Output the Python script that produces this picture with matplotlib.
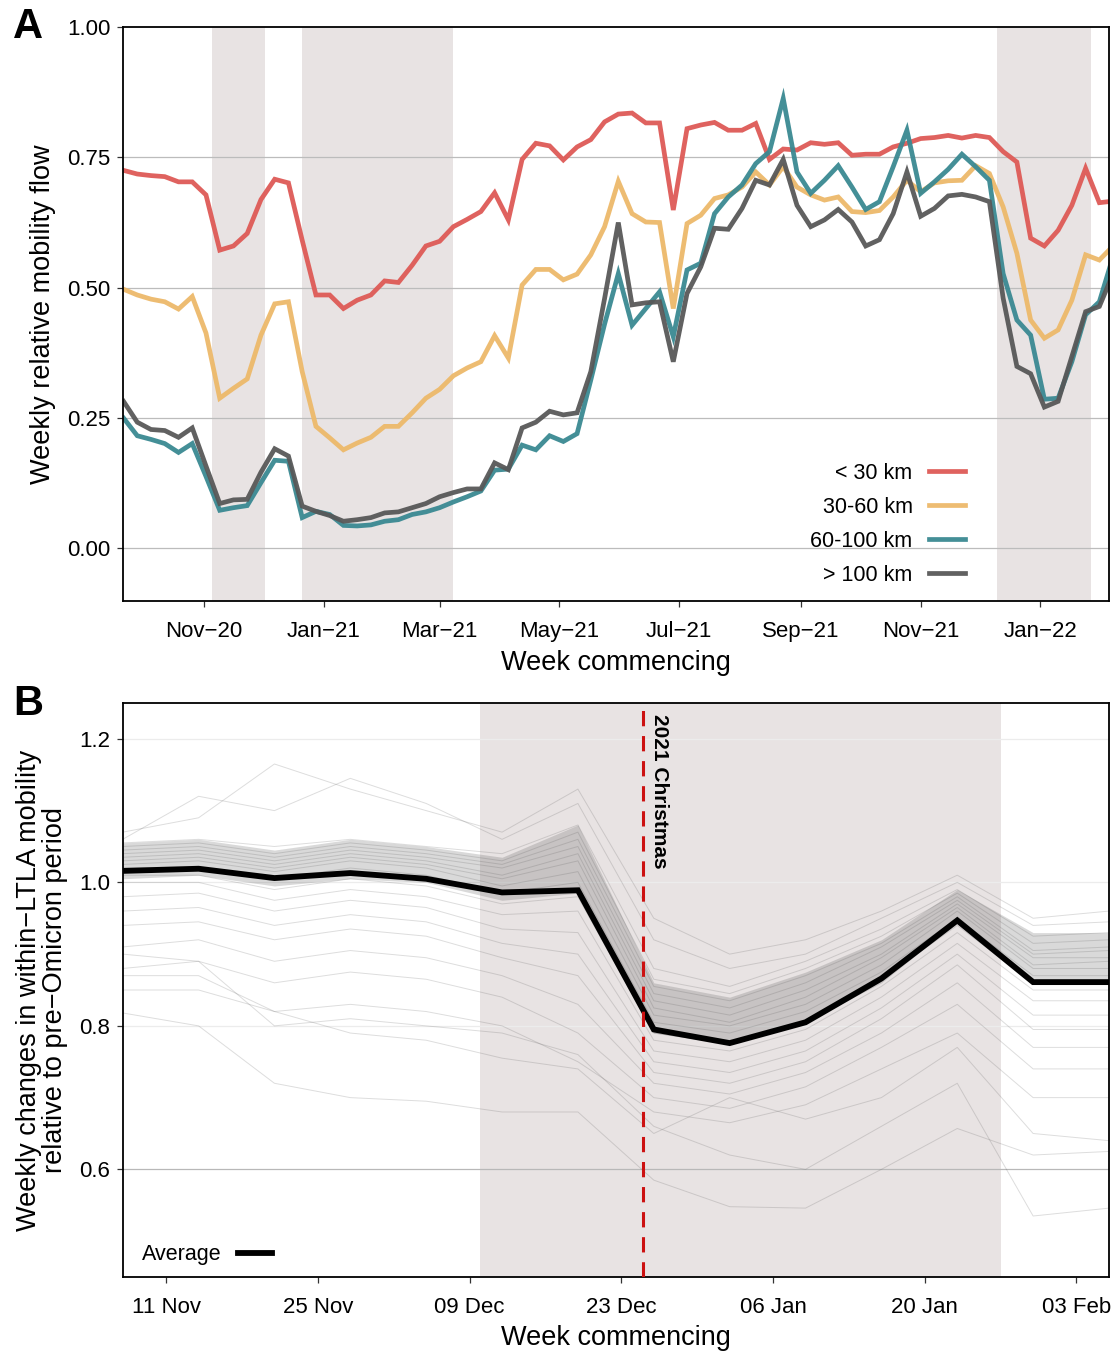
import datetime as dt
import matplotlib
matplotlib.use("Agg")
import matplotlib.pyplot as plt
from matplotlib.lines import Line2D

plt.rcParams["font.family"] = ["Liberation Sans", "DejaVu Sans"]

# ---------------- Panel A data: weekly relative mobility flow ----------------
first_week = dt.datetime(2020, 9, 21)
weeks_a = [first_week + dt.timedelta(weeks=i) for i in range(73)]

flow_lt30 = [
    0.725, 0.718, 0.715, 0.713, 0.703, 0.703, 0.678, 0.572, 0.580, 0.604,
    0.669, 0.708, 0.701, 0.591, 0.486, 0.486, 0.460, 0.476, 0.486, 0.513,
    0.510, 0.543, 0.580, 0.589, 0.617, 0.631, 0.646, 0.682, 0.630, 0.746,
    0.777, 0.772, 0.745, 0.770, 0.784, 0.818, 0.833, 0.835, 0.816, 0.816,
    0.649, 0.805, 0.812, 0.817, 0.802, 0.802, 0.815, 0.746, 0.766, 0.764,
    0.778, 0.775, 0.778, 0.754, 0.756, 0.756, 0.770, 0.777, 0.786, 0.788,
    0.792, 0.787, 0.792, 0.788, 0.761, 0.741, 0.595, 0.580, 0.610, 0.658,
    0.729, 0.663, 0.666,
]
flow_30_60 = [
    0.497, 0.486, 0.478, 0.473, 0.459, 0.483, 0.413, 0.288, 0.307, 0.325,
    0.409, 0.469, 0.473, 0.339, 0.234, 0.212, 0.189, 0.202, 0.213, 0.234,
    0.234, 0.260, 0.288, 0.305, 0.331, 0.346, 0.358, 0.408, 0.365, 0.505,
    0.535, 0.535, 0.515, 0.526, 0.563, 0.617, 0.704, 0.642, 0.626, 0.625,
    0.460, 0.623, 0.639, 0.671, 0.678, 0.693, 0.722, 0.697, 0.732, 0.693,
    0.678, 0.668, 0.674, 0.646, 0.644, 0.648, 0.674, 0.706, 0.684, 0.701,
    0.705, 0.706, 0.734, 0.719, 0.655, 0.566, 0.438, 0.403, 0.419, 0.476,
    0.563, 0.553, 0.580,
]
flow_60_100 = [
    0.250, 0.216, 0.209, 0.201, 0.184, 0.201, 0.138, 0.073, 0.078, 0.082,
    0.126, 0.169, 0.167, 0.059, 0.071, 0.065, 0.044, 0.043, 0.045, 0.052,
    0.055, 0.065, 0.070, 0.078, 0.089, 0.099, 0.110, 0.150, 0.152, 0.198,
    0.189, 0.216, 0.205, 0.220, 0.323, 0.430, 0.527, 0.428, 0.460, 0.492,
    0.406, 0.534, 0.547, 0.642, 0.674, 0.697, 0.738, 0.761, 0.863, 0.722,
    0.681, 0.706, 0.734, 0.693, 0.650, 0.665, 0.732, 0.802, 0.681, 0.703,
    0.727, 0.756, 0.732, 0.706, 0.527, 0.438, 0.409, 0.286, 0.288, 0.358,
    0.448, 0.473, 0.560,
]
flow_gt100 = [
    0.282, 0.242, 0.228, 0.226, 0.213, 0.231, 0.158, 0.086, 0.093, 0.094,
    0.146, 0.191, 0.177, 0.081, 0.071, 0.063, 0.052, 0.055, 0.059, 0.068,
    0.070, 0.078, 0.086, 0.099, 0.107, 0.114, 0.114, 0.164, 0.151, 0.231,
    0.242, 0.263, 0.256, 0.260, 0.339, 0.479, 0.625, 0.467, 0.471, 0.473,
    0.358, 0.489, 0.540, 0.614, 0.612, 0.652, 0.706, 0.697, 0.746, 0.658,
    0.617, 0.630, 0.650, 0.626, 0.580, 0.592, 0.642, 0.722, 0.637, 0.652,
    0.676, 0.679, 0.674, 0.665, 0.480, 0.349, 0.335, 0.271, 0.282, 0.368,
    0.454, 0.464, 0.527,
]
band_labels = ["< 30 km", "30-60 km", "60-100 km", "> 100 km"]
band_colors = ["#de5a56", "#edb96a", "#3a8992", "#585858"]

# restriction periods (shaded)
periods_a = [
    (dt.datetime(2020, 11, 5), dt.datetime(2020, 12, 2)),
    (dt.datetime(2020, 12, 21), dt.datetime(2021, 3, 8)),
    (dt.datetime(2021, 12, 10), dt.datetime(2022, 1, 27)),
]

# ---------------- Panel B data: within-LTLA mobility vs pre-Omicron ----------------
weeks_b = [dt.datetime(2021, 11, 7) + dt.timedelta(weeks=i) for i in range(14)]
average_b = [1.016, 1.019, 1.006, 1.013, 1.005, 0.986, 0.989,
             0.795, 0.776, 0.805, 0.866, 0.947, 0.861, 0.861]

# dense core of the LTLA trajectories
core_lo = [1.005, 1.010, 0.995, 1.005, 1.000, 0.975, 0.985,
           0.790, 0.775, 0.805, 0.860, 0.945, 0.865, 0.865]
core_hi = [1.055, 1.060, 1.045, 1.060, 1.050, 1.035, 1.080,
           0.860, 0.840, 0.875, 0.920, 0.990, 0.930, 0.930]

# individual LTLA trajectories
ltla_lines = [
    [1.070, 1.090, 1.165, 1.130, 1.100, 1.070, 1.130, 0.950, 0.900, 0.920, 0.960, 1.010, 0.950, 0.960],
    [1.060, 1.120, 1.100, 1.145, 1.110, 1.060, 1.110, 0.920, 0.880, 0.900, 0.950, 1.000, 0.940, 0.945],
    [1.055, 1.060, 1.050, 1.060, 1.050, 1.040, 1.080, 0.880, 0.855, 0.890, 0.935, 0.990, 0.925, 0.930],
    [1.050, 1.055, 1.040, 1.055, 1.045, 1.030, 1.070, 0.865, 0.845, 0.880, 0.925, 0.985, 0.915, 0.920],
    [1.045, 1.050, 1.035, 1.050, 1.040, 1.025, 1.060, 0.855, 0.835, 0.870, 0.915, 0.980, 0.905, 0.910],
    [1.040, 1.045, 1.030, 1.045, 1.035, 1.020, 1.050, 0.845, 0.825, 0.860, 0.910, 0.975, 0.900, 0.905],
    [1.035, 1.040, 1.025, 1.040, 1.030, 1.010, 1.040, 0.835, 0.815, 0.850, 0.900, 0.970, 0.895, 0.895],
    [1.030, 1.035, 1.020, 1.035, 1.025, 1.005, 1.030, 0.825, 0.805, 0.840, 0.895, 0.965, 0.885, 0.890],
    [1.025, 1.030, 1.015, 1.030, 1.020, 0.995, 1.015, 0.815, 0.800, 0.830, 0.885, 0.960, 0.880, 0.880],
    [1.020, 1.020, 1.005, 1.020, 1.010, 0.985, 1.000, 0.805, 0.790, 0.820, 0.875, 0.950, 0.870, 0.870],
    [1.010, 1.010, 0.990, 1.005, 0.995, 0.970, 0.980, 0.790, 0.775, 0.805, 0.865, 0.940, 0.860, 0.860],
    [1.000, 1.000, 0.975, 0.990, 0.980, 0.955, 0.960, 0.780, 0.765, 0.795, 0.855, 0.930, 0.850, 0.850],
    [0.980, 0.985, 0.960, 0.975, 0.965, 0.935, 0.930, 0.765, 0.750, 0.780, 0.840, 0.915, 0.835, 0.835],
    [0.960, 0.965, 0.940, 0.955, 0.945, 0.915, 0.900, 0.750, 0.735, 0.765, 0.825, 0.900, 0.815, 0.815],
    [0.940, 0.945, 0.920, 0.935, 0.925, 0.895, 0.870, 0.735, 0.720, 0.750, 0.810, 0.885, 0.795, 0.795],
    [0.910, 0.920, 0.890, 0.905, 0.895, 0.870, 0.830, 0.720, 0.705, 0.735, 0.790, 0.860, 0.770, 0.770],
    [0.880, 0.890, 0.860, 0.875, 0.865, 0.840, 0.790, 0.700, 0.685, 0.715, 0.770, 0.830, 0.740, 0.740],
    [0.850, 0.850, 0.820, 0.830, 0.820, 0.800, 0.750, 0.680, 0.665, 0.690, 0.740, 0.790, 0.700, 0.700],
    [0.818, 0.800, 0.720, 0.700, 0.695, 0.680, 0.680, 0.585, 0.548, 0.546, 0.600, 0.657, 0.620, 0.625],
    [0.900, 0.890, 0.800, 0.810, 0.800, 0.790, 0.760, 0.660, 0.620, 0.600, 0.660, 0.720, 0.535, 0.546],
    [0.870, 0.870, 0.820, 0.790, 0.780, 0.755, 0.740, 0.650, 0.700, 0.670, 0.700, 0.770, 0.650, 0.640],
]
period_b = (dt.datetime(2021, 12, 10), dt.datetime(2022, 1, 27))
christmas = dt.datetime(2021, 12, 25)

shade = "#e8e3e3"
W, H = 1116, 1353
fig = plt.figure(figsize=(W / 100, H / 100), dpi=100)


def frac_box(left, top, right, bottom):
    return [left / W, 1 - bottom / H, (right - left) / W, (bottom - top) / H]


def style_axes(ax):
    for s in ax.spines.values():
        s.set_linewidth(1.3)
        s.set_color("black")
    ax.tick_params(axis="both", length=4, width=0.9, color="#333333",
                   labelsize=16, labelcolor="black")
    ax.tick_params(axis="x", pad=10.5)
    ax.tick_params(axis="y", pad=5)


# ---------------- Panel A ----------------
ax = fig.add_axes(frac_box(122.7, 27, 1109, 600.5))
for start, end in periods_a:
    ax.axvspan(start, end, color=shade, lw=0, zorder=0)
for yv in [0.0, 0.25, 0.5, 0.75]:
    ax.axhline(yv, color="#bcbcbc", lw=0.9, zorder=0.5)
for series, label, color in zip([flow_lt30, flow_30_60, flow_60_100, flow_gt100],
                                band_labels, band_colors):
    ax.plot(weeks_a, series, color=color, lw=3.4, alpha=0.95, label=label,
            solid_joinstyle="miter", zorder=2)

ax.set_xlim(dt.datetime(2020, 9, 20, 14), dt.datetime(2022, 2, 4, 22))
ax.set_ylim(-0.1, 1.0)
ax.set_yticks([0.0, 0.25, 0.5, 0.75, 1.0])
ax.set_yticklabels(["0.00", "0.25", "0.50", "0.75", "1.00"])
month_ticks = [dt.datetime(2020, 11, 1), dt.datetime(2021, 1, 1), dt.datetime(2021, 3, 1),
               dt.datetime(2021, 5, 1), dt.datetime(2021, 7, 1), dt.datetime(2021, 9, 1),
               dt.datetime(2021, 11, 1), dt.datetime(2022, 1, 1)]
ax.set_xticks(month_ticks)
ax.set_xticklabels([d.strftime("%b\u2212%y") for d in month_ticks])
style_axes(ax)
ax.set_xlabel("Week commencing", fontsize=19.5, labelpad=6)
ax.set_ylabel("Weekly relative mobility flow", fontsize=19.5, labelpad=8)
ax.legend(loc="lower right", bbox_to_anchor=(0.874, -0.008), frameon=False,
          markerfirst=False, fontsize=15.5, handlelength=1.7, handletextpad=0.75,
          labelspacing=0.6)

# ---------------- Panel B ----------------
bx = fig.add_axes(frac_box(122.7, 703, 1109, 1277))
bx.axvspan(*period_b, color=shade, lw=0, zorder=0)
for yv, gc in [(0.6, "#b8b8b8"), (0.8, "#ececec"), (1.0, "#ececec"), (1.2, "#ececec")]:
    bx.axhline(yv, color=gc, lw=0.9, zorder=0.5)
bx.fill_between(weeks_b, core_lo, core_hi, color="#555555", alpha=0.22, lw=0, zorder=1)
for vals in ltla_lines:
    bx.plot(weeks_b, vals, color="#555555", lw=0.7, alpha=0.2, zorder=1.2)
bx.plot(weeks_b, average_b, color="black", lw=4.2, solid_joinstyle="miter",
        zorder=3, label="Average")
bx.axvline(christmas, color="#cc1111", lw=2.2, dashes=(5, 3.2), zorder=4)
bx.text(christmas + dt.timedelta(days=1.55), 1.235, "2021 Christmas", rotation=-90,
        ha="center", va="top", fontsize=15, fontweight="bold", zorder=5)

bx.set_xlim(weeks_b[0], weeks_b[-1])
bx.set_ylim(0.45, 1.25)
bx.set_yticks([0.6, 0.8, 1.0, 1.2])
bx.set_yticklabels(["0.6", "0.8", "1.0", "1.2"])
day_ticks = [dt.datetime(2021, 11, 11) + dt.timedelta(days=14 * i) for i in range(7)]
bx.set_xticks(day_ticks)
bx.set_xticklabels([d.strftime("%d %b") for d in day_ticks])
style_axes(bx)
bx.set_xlabel("Week commencing", fontsize=19.5, labelpad=5)
bx.set_ylabel("Weekly changes in within\u2212LTLA mobility\nrelative to pre\u2212Omicron period",
              fontsize=19.5, labelpad=8, linespacing=1.0)
bx.legend(handles=[Line2D([], [], color="black", lw=4.2)], labels=["Average"],
          loc="lower left", bbox_to_anchor=(0.0, -0.013), frameon=False, markerfirst=False,
          fontsize=15.5, handlelength=1.6, handletextpad=0.75)

fig.text(0.025, 0.980, "A", fontsize=30, fontweight="bold", ha="center", va="center")
fig.text(0.025, 0.4797, "B", fontsize=30, fontweight="bold", ha="center", va="center")

fig.savefig("out.png", dpi=100)
